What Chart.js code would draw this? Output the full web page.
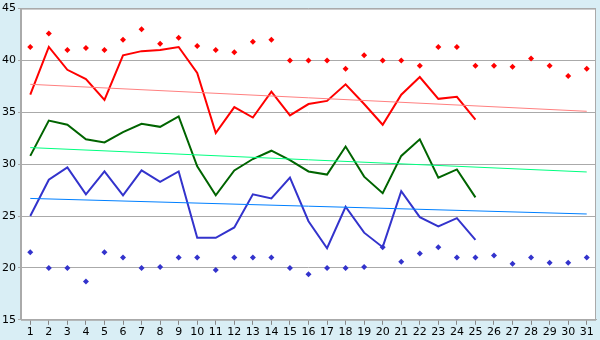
<!DOCTYPE html>
<html>
<head>
<meta charset="utf-8">
<script src="https://cdn.jsdelivr.net/npm/chart.js@4"></script>
<style>
  html, body { margin: 0; padding: 0; background: #d9eef5; }
  #wrap { width: 600px; height: 340px; }
</style>
</head>
<body>
<div id="wrap"><canvas id="line-chart" width="600" height="340"></canvas></div>
<script>
// days of the month
var days = [];
for (var d = 1; d <= 31; d++) days.push(String(d));

// main lines (days 1..25)
var redLine = [36.7, 41.3, 39.1, 38.2, 36.2, 40.5, 40.9, 41.0, 41.3, 38.8, 33.0, 35.5, 34.5, 37.0, 34.7,
  35.8, 36.1, 37.7, 35.8, 33.8, 36.7, 38.4, 36.3, 36.5, 34.3];
var greenLine = [30.8, 34.2, 33.8, 32.4, 32.1, 33.1, 33.9, 33.6, 34.6, 29.8, 27.0, 29.4, 30.5, 31.3, 30.4,
  29.3, 29.0, 31.7, 28.8, 27.2, 30.8, 32.4, 28.7, 29.5, 26.8];
var blueLine = [25.0, 28.5, 29.7, 27.1, 29.3, 27.0, 29.4, 28.3, 29.3, 22.9, 22.9, 23.9, 27.1, 26.7, 28.7,
  24.5, 21.9, 25.9, 23.4, 22.0, 27.4, 24.9, 24.0, 24.8, 22.7];

// single points (days 1..31)
var redDots = [41.3, 42.6, 41.0, 41.2, 41.0, 42.0, 43.0, 41.6, 42.2, 41.4, 41.0, 40.8, 41.8, 42.0, 40.0, 40.0,
  40.0, 39.2, 40.5, 40.0, 40.0, 39.5, 41.3, 41.3, 39.5, 39.5, 39.4, 40.2, 39.5, 38.5, 39.2];
var blueDots = [21.5, 20.0, 20.0, 18.7, 21.5, 21.0, 20.0, 20.1, 21.0, 21.0, 19.8, 21.0, 21.0, 21.0, 20.0, 19.4,
  20.0, 20.0, 20.1, 22.0, 20.6, 21.4, 22.0, 21.0, 21.0, 21.2, 20.4, 21.0, 20.5, 20.5, 21.0];

// trend lines: start (day 1) and end (day 31)
var redTrend = [37.7, 35.1];
var greenTrend = [31.6, 29.25];
var blueTrend = [26.7, 25.2];

function ends(pair) {
  var arr = days.map(function () { return null; });
  arr[0] = pair[0];
  arr[arr.length - 1] = pair[1];
  return arr;
}

// white plot area with grey frame
var plotFrame = {
  id: "plotFrame",
  beforeDraw: function (chart) {
    var a = chart.chartArea, c = chart.ctx;
    c.save();
    c.fillStyle = "#ffffff";
    c.fillRect(a.left, a.top, a.right - a.left, a.bottom - a.top);
    c.restore();
  },
  afterDraw: function (chart) {
    var a = chart.chartArea, c = chart.ctx;
    c.save();
    c.strokeStyle = "#aaaaaa";
    c.lineWidth = 1;
    c.strokeRect(a.left + 0.5, a.top + 0.5, a.right - a.left - 1, a.bottom - a.top);
    c.restore();
  }
};

var font = { family: "DejaVu Sans", size: 11 };

var line_ctx = document.getElementById("line-chart").getContext("2d");
var line_chart = new Chart(line_ctx, {
  type: "line",
  data: {
    labels: days,
    datasets: [
      { data: ends(redTrend), borderColor: "#ff8080", borderWidth: 1, pointRadius: 0, spanGaps: true },
      { data: ends(greenTrend), borderColor: "#00ff80", borderWidth: 1, pointRadius: 0, spanGaps: true },
      { data: ends(blueTrend), borderColor: "#0080ff", borderWidth: 1, pointRadius: 0, spanGaps: true },
      { data: redLine, borderColor: "#ff0000", borderWidth: 2, pointRadius: 0 },
      { data: greenLine, borderColor: "#006400", borderWidth: 2, pointRadius: 0 },
      { data: blueLine, borderColor: "#3333cc", borderWidth: 2, pointRadius: 0 },
      { data: redDots, showLine: false, pointStyle: "rectRot", pointRadius: 3,
        backgroundColor: "#ff0000", borderColor: "#ff0000", borderWidth: 0 },
      { data: blueDots, showLine: false, pointStyle: "rectRot", pointRadius: 3,
        backgroundColor: "#3333cc", borderColor: "#3333cc", borderWidth: 0 }
    ]
  },
  options: {
    responsive: false,
    animation: false,
    layout: { padding: { top: 0, right: 4, left: 0, bottom: 0 } },
    plugins: { legend: { display: false }, tooltip: { enabled: false } },
    elements: { line: { tension: 0 } },
    scales: {
      x: {
        offset: true,
        grid: { offset: false, drawOnChartArea: false, drawTicks: true, tickLength: 5, color: "#888888" },
        border: { color: "#aaaaaa" },
        ticks: { color: "#000000", font: font, maxRotation: 0, autoSkip: false, padding: 1 }
      },
      y: {
        min: 15,
        max: 45,
        grid: { color: "#aaaaaa", tickLength: 3 },
        border: { color: "#aaaaaa" },
        ticks: { stepSize: 5, color: "#000000", font: font, padding: 2 }
      }
    }
  },
  plugins: [plotFrame]
});
</script>
</body>
</html>
